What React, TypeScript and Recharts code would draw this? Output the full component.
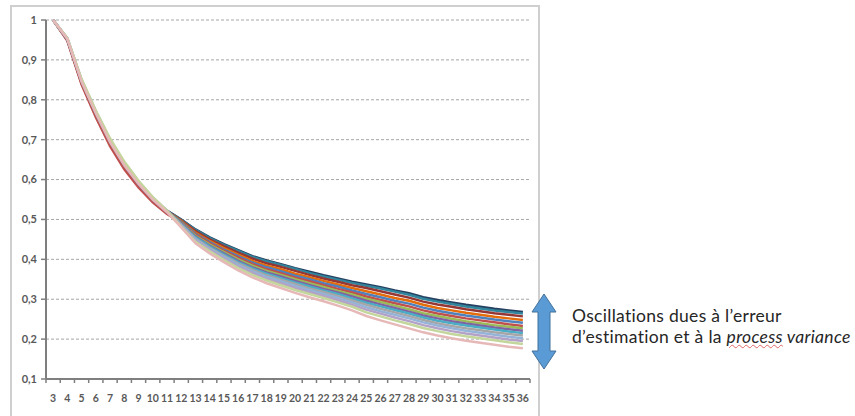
import React from 'react';
import { LineChart, Line, XAxis, YAxis, CartesianGrid } from 'recharts';

const categories = [3, 4, 5, 6, 7, 8, 9, 10, 11, 12, 13, 14, 15, 16, 17, 18, 19, 20, 21, 22, 23, 24, 25, 26, 27, 28, 29, 30, 31, 32, 33, 34, 35, 36];
const yTicks = [0.1, 0.2, 0.3, 0.4, 0.5, 0.6, 0.7, 0.8, 0.9, 1];

const s1 = [1, 0.951, 0.843, 0.763, 0.692, 0.634, 0.588, 0.551, 0.522, 0.5, 0.475, 0.455, 0.438, 0.423, 0.408, 0.397, 0.388, 0.378, 0.369, 0.36, 0.352, 0.344, 0.337, 0.33, 0.322, 0.315, 0.305, 0.298, 0.292, 0.286, 0.281, 0.276, 0.272, 0.268];
const s2 = [1, 0.952, 0.844, 0.764, 0.693, 0.635, 0.589, 0.551, 0.521, 0.499, 0.474, 0.453, 0.436, 0.421, 0.406, 0.395, 0.386, 0.376, 0.366, 0.357, 0.349, 0.341, 0.334, 0.327, 0.319, 0.311, 0.301, 0.294, 0.288, 0.282, 0.277, 0.272, 0.268, 0.264];
const s3 = [1, 0.95, 0.842, 0.762, 0.69, 0.632, 0.586, 0.549, 0.52, 0.498, 0.471, 0.45, 0.433, 0.417, 0.402, 0.39, 0.381, 0.371, 0.361, 0.352, 0.344, 0.335, 0.328, 0.32, 0.312, 0.304, 0.294, 0.287, 0.281, 0.275, 0.27, 0.265, 0.261, 0.257];
const s4 = [1, 0.951, 0.844, 0.764, 0.692, 0.634, 0.587, 0.55, 0.52, 0.496, 0.467, 0.446, 0.428, 0.412, 0.396, 0.384, 0.375, 0.364, 0.355, 0.346, 0.337, 0.328, 0.32, 0.312, 0.303, 0.296, 0.286, 0.278, 0.272, 0.266, 0.261, 0.256, 0.252, 0.248];
const s5 = [1, 0.952, 0.845, 0.765, 0.693, 0.635, 0.588, 0.55, 0.519, 0.494, 0.464, 0.443, 0.424, 0.408, 0.392, 0.38, 0.37, 0.359, 0.35, 0.34, 0.332, 0.322, 0.313, 0.305, 0.296, 0.289, 0.279, 0.271, 0.265, 0.259, 0.254, 0.249, 0.245, 0.241];
const s6 = [1, 0.948, 0.838, 0.756, 0.684, 0.626, 0.58, 0.543, 0.514, 0.492, 0.462, 0.44, 0.421, 0.404, 0.388, 0.375, 0.365, 0.354, 0.345, 0.335, 0.326, 0.317, 0.307, 0.298, 0.29, 0.282, 0.272, 0.264, 0.258, 0.252, 0.247, 0.242, 0.237, 0.233];
const s7 = [1, 0.952, 0.846, 0.766, 0.694, 0.636, 0.589, 0.55, 0.519, 0.491, 0.459, 0.437, 0.418, 0.4, 0.384, 0.371, 0.361, 0.35, 0.34, 0.331, 0.321, 0.312, 0.301, 0.293, 0.284, 0.275, 0.265, 0.258, 0.251, 0.245, 0.24, 0.235, 0.231, 0.227];
const s8 = [1, 0.951, 0.845, 0.765, 0.693, 0.635, 0.588, 0.549, 0.518, 0.49, 0.457, 0.434, 0.415, 0.396, 0.38, 0.367, 0.357, 0.346, 0.336, 0.326, 0.317, 0.307, 0.296, 0.287, 0.278, 0.269, 0.259, 0.252, 0.245, 0.239, 0.234, 0.229, 0.225, 0.221];
const s9 = [1, 0.953, 0.847, 0.767, 0.696, 0.638, 0.591, 0.552, 0.52, 0.488, 0.455, 0.432, 0.412, 0.393, 0.377, 0.364, 0.353, 0.342, 0.332, 0.322, 0.313, 0.302, 0.291, 0.282, 0.273, 0.264, 0.254, 0.246, 0.24, 0.234, 0.229, 0.224, 0.219, 0.215];
const s10 = [1, 0.953, 0.848, 0.768, 0.697, 0.639, 0.592, 0.553, 0.521, 0.487, 0.452, 0.429, 0.409, 0.39, 0.374, 0.36, 0.349, 0.338, 0.327, 0.318, 0.308, 0.297, 0.286, 0.276, 0.267, 0.258, 0.248, 0.24, 0.233, 0.227, 0.222, 0.217, 0.213, 0.209];
const s11 = [1, 0.954, 0.849, 0.77, 0.699, 0.641, 0.594, 0.554, 0.521, 0.486, 0.45, 0.426, 0.406, 0.386, 0.37, 0.356, 0.345, 0.333, 0.323, 0.313, 0.303, 0.292, 0.28, 0.27, 0.261, 0.252, 0.242, 0.234, 0.227, 0.221, 0.216, 0.211, 0.206, 0.202];
const s12 = [1, 0.954, 0.85, 0.771, 0.7, 0.642, 0.595, 0.555, 0.522, 0.484, 0.447, 0.423, 0.402, 0.382, 0.366, 0.351, 0.34, 0.328, 0.318, 0.308, 0.298, 0.286, 0.274, 0.264, 0.254, 0.245, 0.235, 0.227, 0.22, 0.214, 0.209, 0.204, 0.199, 0.195];
const s13 = [1, 0.955, 0.852, 0.773, 0.703, 0.645, 0.597, 0.556, 0.522, 0.482, 0.444, 0.42, 0.398, 0.378, 0.361, 0.347, 0.335, 0.323, 0.313, 0.303, 0.292, 0.281, 0.267, 0.257, 0.247, 0.238, 0.228, 0.22, 0.213, 0.207, 0.202, 0.197, 0.192, 0.188];
const s14 = [1, 0.953, 0.846, 0.766, 0.694, 0.636, 0.589, 0.55, 0.518, 0.48, 0.44, 0.415, 0.393, 0.372, 0.355, 0.34, 0.328, 0.316, 0.305, 0.295, 0.284, 0.272, 0.258, 0.247, 0.237, 0.227, 0.217, 0.209, 0.202, 0.196, 0.191, 0.186, 0.181, 0.177];

const series = [s1, s2, s3, s4, s5, s6, s7, s8, s9, s10, s11, s12, s13, s14];
const colors = ['#254061', '#31859C', '#953735', '#E46C0A', '#4F81BD', '#C0504D', '#9BBB59', '#8064A2', '#4BACC6', '#A6A6A6', '#95B3D7', '#B3A2C7', '#C3D69B', '#E6B9B8'];

const data = categories.map((k, i) => {
  const row: Record<string, number> = { k };
  series.forEach((s, j) => { row['s' + (j + 1)] = s[i]; });
  return row;
});

// labels at category centres, small tick marks at category boundaries
const xTicks: number[] = [];
categories.forEach((c) => { xTicks.push(c - 0.5); xTicks.push(c); });
xTicks.push(categories[categories.length - 1] + 0.5);

const XTick = (props: any) => {
  const { x, y, payload } = props;
  if (Number.isInteger(payload.value)) {
    return (
      <text x={x} y={y + 19} dy="0.35em" textAnchor="middle" fontSize={10.5} fontWeight="bold" fill="#595959" fontFamily="Lato, 'Liberation Sans', sans-serif">
        {payload.value}
      </text>
    );
  }
  return <line x1={x} x2={x} y1={y} y2={y + 4} stroke="#7f7f7f" strokeWidth={1.5} />;
};

const fmtY = (v: number) => String(v).replace('.', ',');

export default function App() {
  return (
    <div style={{ position: 'fixed', left: 0, top: 0, width: 855, height: 416, overflow: 'hidden', background: '#fff' }}>
      <div style={{ position: 'absolute', left: 10, top: 5, width: 530, height: 430, border: '2px solid #cfcfcf', boxSizing: 'border-box' }} />
      <div style={{ position: 'absolute', left: 0, top: 0 }}>
        <LineChart width={545} height={416} data={data} margin={{ top: 20, right: 15, bottom: 0, left: 0 }}>
          <CartesianGrid vertical={false} stroke="#a6a6a6" strokeDasharray="3 2" />
          <XAxis
            dataKey="k"
            type="number"
            domain={[2.5, 36.5]}
            ticks={xTicks}
            interval={0}
            height={37}
            tickSize={0}
            tickMargin={0}
            tickLine={false}
            tick={<XTick />}
            axisLine={{ stroke: '#7f7f7f', strokeWidth: 2 }}
          />
          <YAxis
            type="number"
            domain={[0.1, 1]}
            ticks={yTicks}
            interval={0}
            width={46}
            tickSize={5}
            tickMargin={4}
            tickFormatter={fmtY}
            tick={{ fontSize: 11, fontWeight: 'bold', fill: '#595959', fontFamily: "Lato, 'Liberation Sans', sans-serif" }}
            tickLine={{ stroke: '#7f7f7f', strokeWidth: 1.5 }}
            axisLine={{ stroke: '#7f7f7f', strokeWidth: 2 }}
          />
          {series.map((_, j) => (
            <Line
              key={j}
              type="linear"
              dataKey={'s' + (j + 1)}
              stroke={colors[j]}
              strokeWidth={2.5}
              dot={false}
              isAnimationActive={false}
            />
          ))}
        </LineChart>
      </div>
      <svg style={{ position: 'absolute', left: 0, top: 0 }} width={855} height={416}>
        <polygon
          points="544,294 556,312 550,312 550,351 556,351 544,369 532,351 538,351 538,312 532,312"
          fill="#5B9BD5"
          stroke="#41719C"
          strokeWidth={1}
        />
      </svg>
      <div style={{ position: 'absolute', left: 572, top: 305, fontFamily: "Lato, 'Liberation Sans', sans-serif", fontSize: 17.5, lineHeight: '21px', letterSpacing: 0.3, color: '#262626', whiteSpace: 'nowrap' }}>
        <div>Oscillations dues à l’erreur</div>
        <div>
          d’estimation et à la{' '}
          <i>
            <span style={{ textDecoration: 'underline wavy #e06666', textDecorationThickness: 1 }}>process</span> variance
          </i>
        </div>
      </div>
    </div>
  );
}
